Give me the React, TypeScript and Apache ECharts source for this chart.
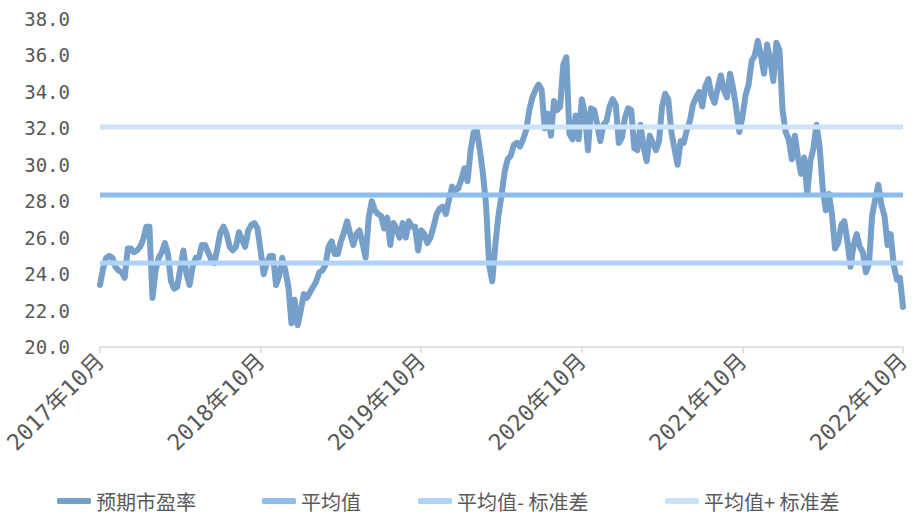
import React, { useEffect, useRef } from "react";
import * as echarts from "echarts";

const tickLabels = ["2017年10月", "2018年10月", "2019年10月", "2020年10月", "2021年10月", "2022年10月"];

const seriesNames = ["预期市盈率", "平均值", "平均值- 标准差", "平均值+ 标准差"];

// weekly forward P/E values, Oct 2017 – Oct 2022
const peValues = [
  23.4, 24.3, 24.9, 25.0, 24.9, 24.4, 24.2, 24.1, 23.8, 25.4,
  25.4, 25.2, 25.3, 25.5, 25.9, 26.6, 26.6, 22.7, 24.2, 24.9,
  25.2, 25.7, 25.1, 23.6, 23.2, 23.3, 24.3, 25.3, 24.0, 23.4,
  24.4, 24.9, 24.9, 25.6, 25.6, 25.2, 24.8, 24.6, 25.4, 26.3,
  26.6, 26.2, 25.5, 25.3, 25.5, 26.3, 25.9, 25.5, 26.4, 26.7,
  26.8, 26.5, 25.3, 24.0, 24.6, 25.0, 25.0, 23.4, 23.9, 24.9,
  24.2, 23.3, 21.3, 22.6, 21.2, 22.0, 22.9, 22.7, 23.0, 23.3,
  23.6, 24.1, 24.2, 24.5, 25.5, 25.8, 25.1, 25.1, 25.8, 26.3,
  26.9, 26.2, 25.6, 26.2, 26.4, 25.7, 24.9, 27.1, 28.0, 27.5,
  27.3, 27.2, 26.5, 27.1, 25.6, 26.8, 26.5, 26.0, 26.8, 26.0,
  26.9, 26.6, 26.6, 25.3, 26.4, 26.2, 25.7, 26.0, 26.6, 27.3,
  27.6, 27.7, 27.3, 28.1, 28.8, 28.6, 28.7, 29.2, 29.8, 29.1,
  30.8, 31.8, 31.9, 30.8, 29.5, 27.8, 24.5, 23.6, 25.6, 27.2,
  28.3, 29.6, 30.3, 30.5, 31.1, 31.2, 31.0, 31.4, 31.9, 33.0,
  33.7, 34.1, 34.4, 34.1, 32.0, 32.8, 31.6, 33.5, 33.0, 33.2,
  35.5, 35.9, 31.7, 31.4, 32.7, 31.4, 33.6, 32.8, 30.8, 33.1,
  33.0, 32.2, 31.3, 32.2, 32.4, 33.2, 33.6, 33.3, 31.2, 31.5,
  32.6, 33.1, 33.0, 30.9, 30.8, 32.2, 31.0, 30.2, 31.6, 31.2,
  30.8, 31.3, 33.2, 33.9, 33.6, 31.8, 30.9, 30.0, 31.3, 31.2,
  31.9, 32.4, 33.3, 33.7, 34.0, 33.2, 34.3, 34.7, 33.8, 33.4,
  34.2, 34.9, 34.1, 33.7, 35.0, 34.2, 33.1, 31.8, 32.6, 33.8,
  34.4, 35.7, 36.0, 36.8, 36.0, 35.0, 36.6, 35.8, 34.6, 36.7,
  36.3, 33.0, 31.8, 31.4, 30.3, 31.6, 30.4, 29.5, 30.4, 28.4,
  30.2, 30.9, 32.2, 31.0, 28.7, 27.5, 28.4, 27.3, 25.4, 25.7,
  26.7, 26.9, 25.8, 24.4, 25.6, 26.2, 25.5, 25.2, 24.1, 24.6,
  27.2, 28.1, 28.9, 27.8, 27.2, 25.6, 26.2, 24.5, 23.7, 23.8,
  22.2,
];

const meanValue = 28.34;
const lowerValue = 24.61;
const upperValue = 32.07;

const colors = ["#76A0CA", "#8DBDEB", "#ADD3F8", "#CDE3FA"];

const categories: string[] = peValues.map((_, i) => {
  const d = new Date(2017, 9, 9 + i * 7);
  return `${d.getFullYear()}-${d.getMonth() + 1}-${d.getDate()}`;
});

export default function App() {
  const ref = useRef<HTMLDivElement>(null);
  useEffect(() => {
    if (!ref.current) return;
    const chart = echarts.init(ref.current, undefined, { renderer: "svg" });
    const isTick = (idx: number) => idx % 52 === 0;
    const textColor = "#595959";
    const legendLefts = [57, 262, 418, 665];
    chart.setOption({
      animation: false,
      backgroundColor: "#ffffff",
      grid: { left: 100, right: 11, top: 19, bottom: 168, containLabel: false },
      legend: seriesNames.map((n, k) => ({
        data: [n],
        left: legendLefts[k],
        top: 491,
        icon: "roundRect",
        itemWidth: 34,
        itemHeight: 6,
        itemGap: 0,
        padding: 0,
        textStyle: { color: textColor, fontSize: 20, fontFamily: "Noto Sans CJK SC" },
      })),
      xAxis: {
        type: "category",
        data: categories,
        boundaryGap: false,
        axisLine: { lineStyle: { color: "#D9D9D9", width: 1.5 } },
        axisTick: { show: true, interval: (idx: number) => isTick(idx), length: 6, lineStyle: { color: "#D9D9D9", width: 1.5 } },
        axisLabel: {
          interval: (idx: number) => isTick(idx),
          formatter: (_v: string, idx: number) => (isTick(idx) ? tickLabels[idx / 52] : ""),
          rotate: 45,
          margin: 10,
          color: textColor,
          fontSize: 22.5,
          fontFamily: "DejaVu Sans Mono, Noto Sans CJK SC",
        },
        splitLine: { show: false },
      },
      yAxis: {
        type: "value",
        min: 20,
        max: 38,
        interval: 2,
        axisLine: { show: false },
        axisTick: { show: false },
        splitLine: { show: false },
        axisLabel: {
          formatter: (v: number) => v.toFixed(1),
          color: textColor,
          fontSize: 19,
          fontFamily: "DejaVu Sans Mono",
          margin: 30,
        },
      },
      series: [
        {
          name: seriesNames[0],
          type: "line",
          data: peValues,
          color: colors[0],
          symbol: "none",
          lineStyle: { width: 6, color: colors[0], cap: "round", join: "round" },
        },
        {
          name: seriesNames[1],
          type: "line",
          data: peValues.map(() => meanValue),
          color: colors[1],
          symbol: "none",
          lineStyle: { width: 5, color: colors[1] },
        },
        {
          name: seriesNames[2],
          type: "line",
          data: peValues.map(() => lowerValue),
          color: colors[2],
          symbol: "none",
          lineStyle: { width: 5, color: colors[2] },
        },
        {
          name: seriesNames[3],
          type: "line",
          data: peValues.map(() => upperValue),
          color: colors[3],
          symbol: "none",
          lineStyle: { width: 5, color: colors[3] },
        },
      ],
    });
    return () => chart.dispose();
  }, []);
  return (
    <div
      ref={ref}
      style={{ position: "fixed", left: 0, top: 0, width: 914, height: 515, background: "#fff" }}
    />
  );
}
